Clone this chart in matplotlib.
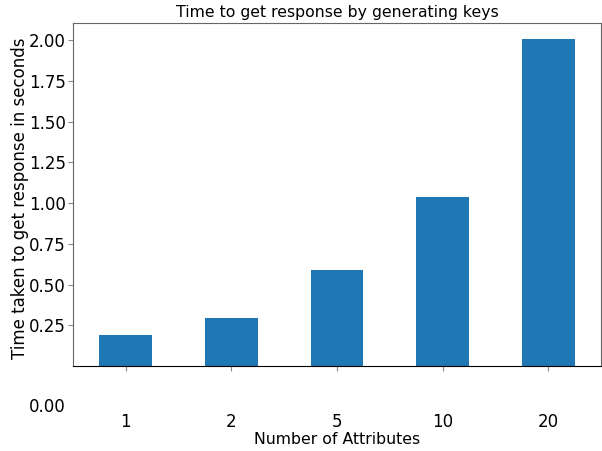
import matplotlib
matplotlib.use("Agg")
import matplotlib.pyplot as plt

categories = ["1", "2", "5", "10", "20"]
values = [0.19, 0.295, 0.59, 1.037, 2.006]
ytick_vals = [0.25, 0.50, 0.75, 1.00, 1.25, 1.50, 1.75, 2.00]

plt.rcParams['font.family'] = ['DejaVu Sans']
fig = plt.figure(figsize=(6.02, 4.51), dpi=100)
ax = fig.add_axes([73/602, 1-366/451, 528/602, 343/451])

x = list(range(len(categories)))
ax.bar(x, values, width=0.5, color="#1f77b4")
ax.set_xlim(-0.5, len(categories) - 0.5)
ax.set_ylim(0, 2.105)
ax.set_xticks(x)
ax.set_xticklabels(categories, fontsize=12)
ax.set_yticks(ytick_vals)
ax.set_yticklabels([f"{v:.2f}" for v in ytick_vals], fontsize=12)
ax.tick_params(axis='x', pad=30, color="#888888")
ax.tick_params(axis='y', color="#888888", pad=1.5)

for s in ["left", "top", "right"]:
    ax.spines[s].set_color("#666666")
ax.spines["bottom"].set_color("black")

ax.annotate("0.00", xy=(0, 0), xycoords=ax.get_yaxis_transform(),
            xytext=(-7, -41), textcoords="offset pixels",
            ha="right", va="center", fontsize=12)

ax.set_title("Time to get response by generating keys", fontsize=11.3, pad=4)
ax.set_xlabel("Number of Attributes", fontsize=11.3, labelpad=1)
ax.set_ylabel("Time taken to get response in seconds", fontsize=12)
ax.yaxis.set_label_coords(-0.083, 0.49)

fig.savefig("out.png", dpi=100)
